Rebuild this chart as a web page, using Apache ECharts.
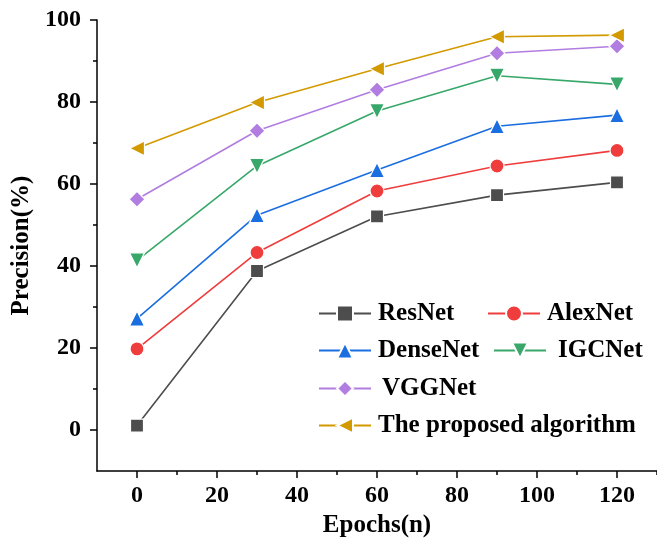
<!DOCTYPE html>
<html>
<head>
<meta charset="utf-8">
<script src="https://cdn.jsdelivr.net/npm/echarts@6/dist/echarts.min.js"></script>
<style>
  html, body { margin: 0; padding: 0; background: #fff; }
  #chart { width: 657px; height: 543px; }
</style>
</head>
<body>
<div id="chart"></div>
<script>
// Training epochs on the x axis
const epochs = [0, 30, 60, 90, 120];

// Precision (%) per model
const resnet   = [1.1, 38.8, 52.1, 57.3, 60.4];
const alexnet  = [19.8, 43.3, 58.3, 64.4, 68.2];
const densenet = [27.2, 52.4, 63.4, 74.1, 76.8];
const igcnet   = [41.4, 64.4, 77.8, 86.4, 84.3];
const vggnet   = [56.3, 73.0, 83.0, 91.9, 93.6];
const proposed = [68.7, 79.9, 88.1, 95.9, 96.3];

const seriesNames = ['ResNet', 'AlexNet', 'DenseNet', 'IGCNet', 'VGGNet', 'The proposed algorithm'];

// Tick positions
const xMajorTicks = [0, 20, 40, 60, 80, 100, 120];
const xMinorTicks = [10, 30, 50, 70, 90, 110, 130];
const yMajorTicks = [0, 20, 40, 60, 80, 100];
const yMinorTicks = [10, 30, 50, 70, 90];

const FONT = '"Liberation Serif", "Times New Roman", serif';

function pairs(values) {
  return epochs.map((e, i) => [e, values[i]]);
}

const styles = [
  { data: resnet,   color: '#4d4d4d', symbol: 'rect',     size: 13, rotate: 0 },
  { data: alexnet,  color: '#ef3d3d', symbol: 'circle',   size: 14, rotate: 0 },
  { data: densenet, color: '#1b6ee0', symbol: 'triangle', size: 15, rotate: 0 },
  { data: igcnet,   color: '#38a86a', symbol: 'triangle', size: 15, rotate: 180 },
  { data: vggnet,   color: '#b27de0', symbol: 'diamond',  size: 16, rotate: 0 },
  { data: proposed, color: '#d39a00', symbol: 'triangle', size: 15, rotate: 90 }
];

const series = styles.map((s, i) => ({
  name: seriesNames[i],
  type: 'line',
  xAxisIndex: 0,
  yAxisIndex: 0,
  data: pairs(s.data),
  symbol: s.symbol,
  symbolSize: s.size,
  symbolRotate: s.rotate,
  showAllSymbol: true,
  lineStyle: { color: s.color, width: 1.6 },
  itemStyle: { color: s.color, borderColor: '#fff', borderWidth: 1.2 },
  emphasis: { disabled: true },
  animation: false,
  z: 3
}));

// Legend entries: [left, top, extra text padding]
const legendPos = [
  [318, 301, 0],
  [487, 301, 0],
  [318, 338, 0],
  [493, 338, 5],
  [318, 376, 4],
  [318, 413, 0]
];

const legends = seriesNames.map((n, i) => ({
  data: [n],
  left: legendPos[i][0],
  top: legendPos[i][1],
  padding: 0,
  itemWidth: 52,
  itemHeight: 20,
  itemGap: 0,
  textStyle: {
    fontFamily: FONT, fontWeight: 'bold', fontSize: 25, color: '#000',
    padding: [0, 0, 0, 2 + legendPos[i][2]]
  },
  selectedMode: false
}));

const axisLineStyle = { color: '#000', width: 1.5 };

const option = {
  backgroundColor: '#fff',
  animation: false,
  legend: legends,
  grid: { left: 97, right: 0, top: 20, bottom: 70, containLabel: false },
  xAxis: [
    {
      type: 'value', min: -10, max: 130,
      name: 'Epochs(n)', nameLocation: 'middle', nameGap: 40,
      nameTextStyle: { fontFamily: FONT, fontWeight: 'bold', fontSize: 25, color: '#000' },
      axisLine: { show: true, onZero: false, lineStyle: axisLineStyle },
      axisTick: { show: true, length: 7, customValues: xMajorTicks, lineStyle: axisLineStyle },
      axisLabel: { customValues: xMajorTicks, margin: 13, fontFamily: FONT, fontWeight: 'bold', fontSize: 24, color: '#000' },
      splitLine: { show: false }
    },
    {
      type: 'value', min: -10, max: 130, position: 'bottom',
      axisLine: { show: false, onZero: false },
      axisTick: { show: true, length: 4, customValues: xMinorTicks, lineStyle: axisLineStyle },
      axisLabel: { show: false },
      splitLine: { show: false }
    }
  ],
  yAxis: [
    {
      type: 'value', min: -10, max: 100,
      name: 'Precision(%)', nameLocation: 'middle', nameGap: 53,
      nameTextStyle: { fontFamily: FONT, fontWeight: 'bold', fontSize: 25, color: '#000' },
      axisLine: { show: true, onZero: false, lineStyle: axisLineStyle },
      axisTick: { show: true, length: 7, customValues: yMajorTicks, lineStyle: axisLineStyle },
      axisLabel: { customValues: yMajorTicks, margin: 16, fontFamily: FONT, fontWeight: 'bold', fontSize: 24, color: '#000' },
      splitLine: { show: false }
    },
    {
      type: 'value', min: -10, max: 100, position: 'left',
      axisLine: { show: false, onZero: false },
      axisTick: { show: true, length: 4, customValues: yMinorTicks, lineStyle: axisLineStyle },
      axisLabel: { show: false },
      splitLine: { show: false }
    }
  ],
  series: series
};

const chart = echarts.init(document.getElementById('chart'), null, { renderer: 'canvas' });
chart.setOption(option);
</script>
</body>
</html>
